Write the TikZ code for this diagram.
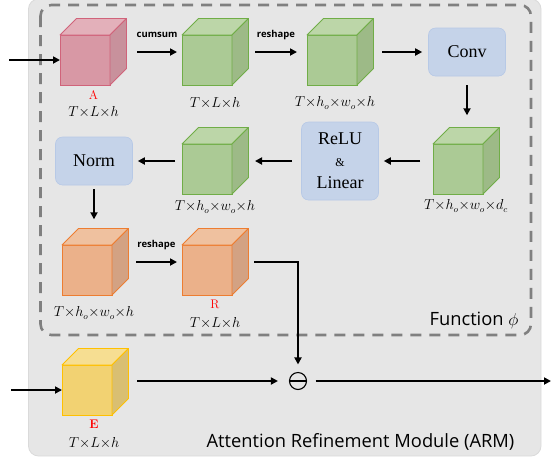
\documentclass[tikz,border=0pt]{standalone}
\usepackage{fontspec}
\newfontfamily\boxfont{Liberation Serif}
\newfontfamily\comicfont{Open Sans}
\usetikzlibrary{arrows.meta}
\definecolor{bggray}{HTML}{E6E6E6}
\definecolor{bgedge}{HTML}{DADADA}
\definecolor{dashgray}{HTML}{808080}
\definecolor{boxblue}{HTML}{C5D3E9}
\definecolor{boxedge}{HTML}{B7C9E6}
\definecolor{pinkF}{HTML}{D898A5}
\definecolor{pinkT}{HTML}{E3B0BA}
\definecolor{pinkS}{HTML}{C8919C}
\definecolor{pinkE}{HTML}{D0637A}
\definecolor{greenF}{HTML}{ABCA95}
\definecolor{greenT}{HTML}{BCD6A8}
\definecolor{greenS}{HTML}{9DBA87}
\definecolor{greenE}{HTML}{70AD47}
\definecolor{orangeF}{HTML}{EBB18A}
\definecolor{orangeT}{HTML}{EFC19F}
\definecolor{orangeS}{HTML}{D3A283}
\definecolor{orangeE}{HTML}{ED7D31}
\definecolor{yellowF}{HTML}{F2D272}
\definecolor{yellowT}{HTML}{F6DE92}
\definecolor{yellowS}{HTML}{D9BF72}
\definecolor{yellowE}{HTML}{FFC000}
\definecolor{lblred}{HTML}{FF0000}
% name, center, front, top, side, edge
\newcommand\drawcube[6]{%
  \node[face, fill=#3, draw=#6] (#1) at (#2) {};
  \filldraw[fill=#4, draw=#6, cubeline] (#1.north west) -- ([shift={(16.5,-16.5)}]#1.north west)
     -- ([shift={(16.5,-16.5)}]#1.north east) -- (#1.north east) -- cycle;
  \filldraw[fill=#5, draw=#6, cubeline] (#1.north east) -- ([shift={(16.5,-16.5)}]#1.north east)
     -- ([shift={(16.5,-16.5)}]#1.south east) -- (#1.south east) -- cycle;
}
\newcommand\tm{{\times}}
\tikzset{
  face/.style={rectangle, minimum width=50pt, minimum height=50pt, inner sep=0pt, outer sep=0pt, line width=0.8pt},
  cubeline/.style={line width=0.8pt, line join=round},
  arr/.style={line width=2pt, -{Triangle[length=7pt,width=7pt]}},
  blk/.style={rectangle, rounded corners=7pt, fill=boxblue, draw=boxedge, line width=0.6pt,
    minimum width=77pt, minimum height=48pt, inner sep=0pt, align=center,
    font=\boxfont\fontsize{18}{22}\selectfont},
  dim/.style={font=\fontsize{13.5}{15}\selectfont, inner sep=0pt},
  tag/.style={text=lblred, font=\fontsize{12.5}{14}\selectfont, inner sep=0pt},
  small/.style={font=\comicfont\bfseries\fontsize{9.5}{11}\selectfont, inner sep=0pt},
  big/.style={font=\comicfont\fontsize{18.3}{20}\selectfont, inner sep=0pt}
}
\begin{document}
\begin{tikzpicture}[x=1pt,y=-1pt]
\useasboundingbox (0,0) rectangle (551,459);
% backgrounds
\filldraw[fill=bggray, draw=bgedge, line width=0.8pt, rounded corners=10pt] (28.5,-1) rectangle (541,456);
\draw[dashgray, line width=2.6pt, dash pattern=on 11pt off 8pt, rounded corners=11pt] (40.5,5) rectangle (531,335);

% cubes
\drawcube{A}{85,60}{pinkF}{pinkT}{pinkS}{pinkE}
\drawcube{G1}{207,60}{greenF}{greenT}{greenS}{greenE}
\drawcube{G2}{332,60}{greenF}{greenT}{greenS}{greenE}
\drawcube{G3}{458,169}{greenF}{greenT}{greenS}{greenE}
\drawcube{G4}{207,169}{greenF}{greenT}{greenS}{greenE}
\drawcube{O1}{87,270}{orangeF}{orangeT}{orangeS}{orangeE}
\drawcube{O2}{207,270}{orangeF}{orangeT}{orangeS}{orangeE}
\drawcube{E}{87,390}{yellowF}{yellowT}{yellowS}{yellowE}

% boxes
\node[blk] (conv) at (467,52) {Conv};
\node[blk, minimum height=78pt] (relu) at (340,161) {ReLU\\{\fontsize{12}{22}\selectfont\&}\\Linear};
\node[blk] (norm) at (94,161) {Norm};
\node[circle, draw, line width=1.1pt, minimum size=17pt, inner sep=0pt] (minus) at (298,381) {};
\draw[line width=1.1pt] (minus.west) -- (minus.east);

% labels
\node[tag] (tA) at (93.5,95) {A};
\node[dim] (dA) at (93.5,112) {$T\tm L\tm h$};
\node[dim] (dG1) at (215,103) {$T\tm L\tm h$};
\node[dim] (dG2) at (335,103) {$T\tm h_o\tm w_o\tm h$};
\node[dim] (dG3) at (466,206) {$T\tm h_o\tm w_o\tm d_c$};
\node[dim] (dG4) at (215,207) {$T\tm h_o\tm w_o\tm h$};
\node[dim] (dO1) at (94,313) {$T\tm h_o\tm w_o\tm h$};
\node[tag] (tR) at (215,304) {R};
\node[dim] (dO2) at (215,323) {$T\tm L\tm h$};
\node[tag, font=\bfseries\fontsize{12.5}{14}\selectfont] (tE) at (94,424) {E};
\node[dim] (dE) at (94,443) {$T\tm L\tm h$};
\node[big] (fn) at (474,320) {Function $\phi$};
\node[big] (arm) at (360.5,442) {Attention Refinement Module (ARM)};

% connectors
\coordinate (inA) at (9,60);
\coordinate (inE) at (11,390);
\coordinate (out) at (551,381);
\draw[arr] (inA) -- (A.west);
\draw[arr] ([shift={(27,-8)}]A.east) -- node[small, midway, yshift=17pt] (lc) {cumsum} ([shift={(-5,-8)}]G1.west);
\draw[arr] ([shift={(23,-8)}]G1.east) -- node[small, midway, yshift=17pt] (lr1) {reshape} ([shift={(-10,-8)}]G2.west);
\draw[arr] ([shift={(25,-8)}]G2.east) -- ([xshift=-6pt]conv.west);
\draw[arr] ([yshift=-9pt]conv.south) -- ++(0,30);
\draw[arr] ([shift={(-13,-8)}]G3.west) -- ([xshift=5pt]relu.east);
\draw[arr] ([xshift=-9pt]relu.west) -- ([shift={(23,-8)}]G4.east);
\draw[arr] ([shift={(-7,-8)}]G4.west) -- ([xshift=5pt]norm.east);
\draw[arr] ([yshift=-4pt]norm.south) -- ++(0,30);
\draw[arr] ([shift={(24,-8)}]O1.east) -- node[small, midway, yshift=17pt] (lr2) {reshape} ([shift={(-5,-8)}]O2.west);
\draw[arr] ([shift={(22,-8)}]O2.east) -| ([yshift=7.5pt]minus.north);
\draw[arr] (inE) -- (E.west);
\draw[arr] ([shift={(25,-9)}]E.east) -- ([xshift=-11pt]minus.west);
\draw[arr] ([xshift=8.5pt]minus.east) -- (out);
\end{tikzpicture}
\end{document}
